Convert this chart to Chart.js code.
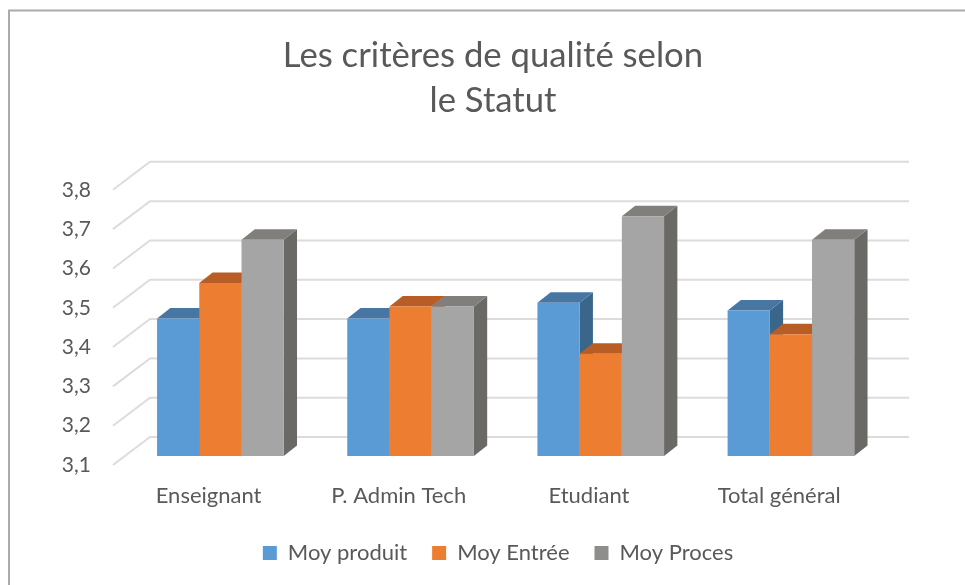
<!DOCTYPE html>
<html>
<head>
<meta charset="utf-8">
<script src="https://cdn.jsdelivr.net/npm/chart.js@4"></script>
<style>
html,body{margin:0;padding:0;background:#fff;overflow:hidden}
#w{position:absolute;left:0;top:0;width:965px;height:585px}
</style>
</head>
<body>
<div id="w"><canvas id="c" width="965" height="585"></canvas></div>
<script>
const categories = ["Enseignant", "P. Admin Tech", "Etudiant", "Total général"];
const moyProduit = [3.45, 3.45, 3.49, 3.47];
const moyEntree = [3.54, 3.48, 3.36, 3.41];
const moyProces = [3.65, 3.48, 3.71, 3.65];
const seriesNames = ["Moy produit", "Moy Entrée", "Moy Proces"];
const frontColors = ["#5B9BD5", "#ED7D31", "#A5A5A5"];
const topColors = ["#4876A3", "#B85D26", "#807F7C"];
const sideColors = ["#3B668C", "#A3521F", "#6A6966"];
const legendColors = ["#5B9BD5", "#ED7D31", "#8E8E8C"];
const titleLines = ["Les critères de qualité selon", "le Statut"];
const TEXT = "#595959";
const FONT = "Lato, Carlito, sans-serif";

const frame3d = {
  id: "frame3d",
  afterLayout(chart) {
    const t = chart.titleBlock, g = chart.legend;
    const dt = 493 - (t.left + t.right) / 2;
    t.left += dt; t.right += dt;
    const dg = 498 - (g.left + g.right) / 2;
    g.left += dg; g.right += dg;
    g.top -= 11; g.bottom -= 11;
  },
  beforeDraw(chart) {
    const c = chart.ctx;
    c.save();
    c.strokeStyle = "#ABABAB";
    c.lineWidth = 2;
    c.beginPath();
    c.moveTo(9, 585); c.lineTo(9, 10.5); c.lineTo(965, 10.5);
    c.stroke();
    c.restore();
  },
  beforeDatasetsDraw(chart) {
    const c = chart.ctx, y = chart.scales.y;
    c.save();
    c.strokeStyle = "#DEDBDB";
    c.lineWidth = 2;
    y.ticks.forEach(t => {
      const p = y.getPixelForValue(t.value);
      c.beginPath();
      c.moveTo(113, p + 9);
      c.lineTo(150, p - 19);
      c.lineTo(909, p - 19);
      c.stroke();
    });
    const dx = 13.3, dy = 10.5;
    for (let i = 0; i < categories.length; i++) {
      chart.data.datasets.forEach((ds, k) => {
        const el = chart.getDatasetMeta(k).data[i];
        const l = el.x - el.width / 2, r = el.x + el.width / 2, t = el.y, b = el.base;
        c.fillStyle = sideColors[k];
        c.beginPath();
        c.moveTo(r, t); c.lineTo(r + dx, t - dy); c.lineTo(r + dx, b - dy); c.lineTo(r, b);
        c.closePath(); c.fill();
        c.fillStyle = topColors[k];
        c.beginPath();
        c.moveTo(l, t); c.lineTo(l + dx, t - dy); c.lineTo(r + dx, t - dy); c.lineTo(r, t);
        c.closePath(); c.fill();
      });
    }
    c.restore();
  }
};

new Chart(document.getElementById("c"), {
  type: "bar",
  plugins: [frame3d],
  data: {
    labels: categories,
    datasets: [
      { label: seriesNames[0], data: moyProduit, backgroundColor: frontColors[0] },
      { label: seriesNames[1], data: moyEntree, backgroundColor: frontColors[1] },
      { label: seriesNames[2], data: moyProces, backgroundColor: frontColors[2] }
    ]
  },
  options: {
    responsive: false,
    animation: false,
    layout: { padding: { left: 50, right: 79, top: 0, bottom: 0 } },
    datasets: { bar: { categoryPercentage: 0.666, barPercentage: 1, borderWidth: 0, base: 3.1 } },
    scales: {
      x: {
        grid: { display: false, drawTicks: false },
        border: { display: false },
        ticks: { color: TEXT, font: { family: FONT, size: 22 }, padding: 26.8, maxRotation: 0, labelOffset: -11.8 },
        afterFit(s) { s.height = 72; }
      },
      y: {
        min: 3.1, max: 3.8,
        grid: { display: false, drawTicks: false },
        border: { display: false },
        ticks: {
          stepSize: 0.1, color: TEXT, font: { family: FONT, size: 21 }, padding: 34.3, labelOffset: 9,
          callback: v => v.toFixed(1).replace(".", ",")
        },
        afterFit(s) { s.width = 75.3; }
      }
    },
    plugins: {
      tooltip: { enabled: false },
      title: {
        display: true, text: titleLines, color: TEXT,
        font: { family: FONT, size: 34.7, weight: "normal", lineHeight: 1.3 },
        padding: { top: 33, bottom: 57.6 }
      },
      legend: {
        position: "bottom",
        labels: {
          color: TEXT, font: { family: FONT, size: 22 }, boxWidth: 14, boxHeight: 14, padding: 25,
          generateLabels: () => seriesNames.map((t, i) => ({
            text: t, fillStyle: legendColors[i], strokeStyle: "transparent", lineWidth: 0, datasetIndex: i, fontColor: TEXT
          }))
        }
      }
    }
  }
});
</script>
</body>
</html>
